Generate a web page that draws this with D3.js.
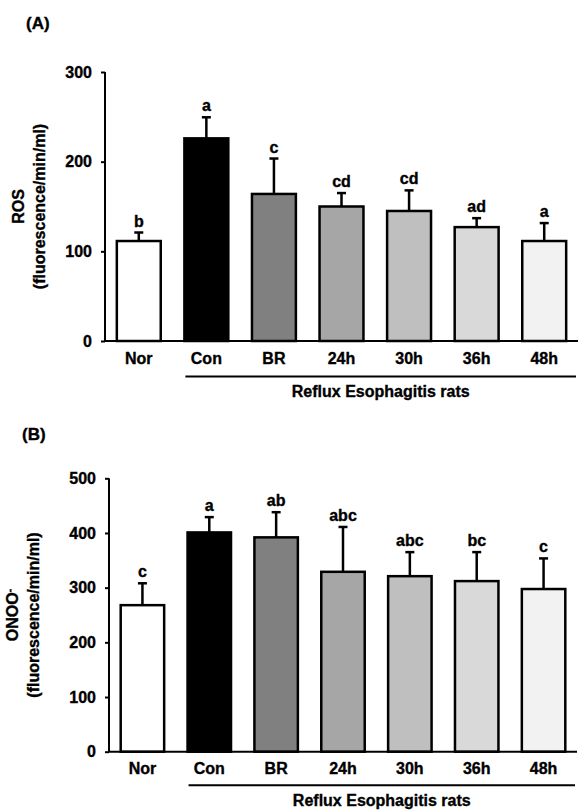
<!DOCTYPE html>
<html>
<head>
<meta charset="utf-8">
<script src="https://cdn.jsdelivr.net/npm/d3@7"></script>
<style>
  html, body { margin: 0; padding: 0; background: #fff; }
  svg text { font-family: "Liberation Sans", Arial, sans-serif; font-weight: bold; fill: #000; stroke: #000; stroke-width: 0.35px; }
</style>
</head>
<body>
<svg id="svg" width="580" height="811"></svg>
<script>
// 데이터
var groups = ['Nor', 'Con', 'BR', '24h', '30h', '36h', '48h'];
var rosMean = [111.5, 226, 164, 150, 145, 127, 111.5];
var rosSD = [9.5, 23.5, 39.5, 15, 23, 10, 20];
var rosLetters = ['b', 'a', 'c', 'cd', 'cd', 'ad', 'a'];
var rosTicks = [0, 100, 200, 300];
var onooMean = [268, 401, 392, 329, 321, 312, 297.5];
var onooSD = [40, 28, 46, 82, 44, 53, 56];
var onooLetters = ['c', 'a', 'ab', 'abc', 'abc', 'bc', 'c'];
var onooTicks = [0, 100, 200, 300, 400, 500];
var groupLabel = 'Reflux Esophagitis rats';

// 막대 색 (흰색 → 검정 → 회색 단계)
var fills = ['#ffffff', '#000000', '#808080', '#a6a6a6', '#bfbfbf', '#d9d9d9', '#f2f2f2'];

var svg = d3.select('#svg');

function drawPanel(p) {
    var g = svg.append('g');

    var x = d3.scaleBand()
        .domain(groups)
        .range([p.left, p.right])
        .paddingInner(0.35)
        .paddingOuter(0.175);

    var y = d3.scaleLinear()
        .domain([0, d3.max(p.ticks)])
        .range([p.bottom, p.top]);

    // 패널 라벨 (A), (B)
    g.append('text')
        .attr('x', p.tagX)
        .attr('y', p.tagY)
        .style('font-size', '17px')
        .text(p.tag);

    // y축
    var yAxis = g.append('g')
        .attr('transform', 'translate(' + p.left + ',0)')
        .call(d3.axisLeft(y).tickValues(p.ticks).tickSize(4).tickPadding(9).tickFormat(d3.format('d')));
    yAxis.select('.domain').attr('stroke', '#000').attr('stroke-width', 2).attr('d', 'M0,' + p.bottom + 'V' + p.top);
    yAxis.selectAll('.tick line').attr('stroke', '#000').attr('stroke-width', 2);
    yAxis.selectAll('.tick text').style('font-size', '16px').attr('fill', '#000');

    // y축 제목 (두 줄, 회전)
    var cy = (p.top + p.bottom) / 2;
    var t1 = g.append('text')
        .attr('transform', 'translate(' + p.title1X + ',' + cy + ') rotate(-90)')
        .attr('text-anchor', 'middle')
        .style('font-size', '16px');
    t1.append('tspan').text(p.title1);
    if (p.title1Sup) {
        t1.append('tspan').attr('dy', '-0.45em').style('font-size', '11px').text(p.title1Sup);
    }
    g.append('text')
        .attr('transform', 'translate(' + p.title2X + ',' + cy + ') rotate(-90)')
        .attr('text-anchor', 'middle')
        .style('font-size', '16px')
        .text('(fluorescence/min/ml)');

    // 막대
    g.selectAll('.bar')
        .data(groups)
        .enter()
        .append('rect')
        .attr('x', function (d) { return x(d); })
        .attr('y', function (d, i) { return y(p.mean[i]); })
        .attr('width', x.bandwidth())
        .attr('height', function (d, i) { return y(0) - y(p.mean[i]); })
        .attr('fill', function (d, i) { return fills[i]; })
        .attr('stroke', '#000')
        .attr('stroke-width', 2.5);

    // 오차 막대 (위쪽만)
    var err = g.selectAll('.err')
        .data(groups)
        .enter()
        .append('g')
        .attr('transform', function (d) { return 'translate(' + (x(d) + x.bandwidth() / 2) + ',0)'; });
    err.append('line')
        .attr('y1', function (d, i) { return y(p.mean[i]); })
        .attr('y2', function (d, i) { return y(p.mean[i] + p.sd[i]); })
        .attr('stroke', '#000')
        .attr('stroke-width', 2.5);
    err.append('line')
        .attr('x1', -4.5)
        .attr('x2', 4.5)
        .attr('y1', function (d, i) { return y(p.mean[i] + p.sd[i]); })
        .attr('y2', function (d, i) { return y(p.mean[i] + p.sd[i]); })
        .attr('stroke', '#000')
        .attr('stroke-width', 2.5);
    // 유의성 문자
    err.append('text')
        .attr('text-anchor', 'middle')
        .attr('y', function (d, i) { return y(p.mean[i] + p.sd[i]) - 6; })
        .style('font-size', '16px')
        .text(function (d, i) { return p.letters[i]; });

    // x축
    g.append('line')
        .attr('x1', p.left).attr('x2', p.right)
        .attr('y1', p.bottom).attr('y2', p.bottom)
        .attr('stroke', '#000').attr('stroke-width', 2);

    g.selectAll('.xlab')
        .data(groups)
        .enter()
        .append('text')
        .attr('x', function (d) { return x(d) + x.bandwidth() / 2; })
        .attr('y', p.bottom + 22.5)
        .attr('text-anchor', 'middle')
        .style('font-size', '16px')
        .text(function (d) { return d; });

    // Con ~ 48h 묶음 선과 라벨
    var bx1 = x(groups[1]) + 1;
    var bx2 = p.right - 2;
    g.append('line')
        .attr('x1', bx1).attr('x2', bx2)
        .attr('y1', p.bottom + p.lineGap).attr('y2', p.bottom + p.lineGap)
        .attr('stroke', '#000').attr('stroke-width', 2);
    g.append('text')
        .attr('x', (bx1 + bx2) / 2)
        .attr('y', p.bottom + p.lineGap + 20.5)
        .attr('text-anchor', 'middle')
        .style('font-size', '16px')
        .text(groupLabel);
}

drawPanel({
    tag: '(A)', tagX: 26, tagY: 29,
    left: 105, right: 578, top: 72, bottom: 341, lineGap: 35.5,
    ticks: rosTicks, mean: rosMean, sd: rosSD, letters: rosLetters,
    title1: 'ROS', title1X: 24, title2X: 45
});

drawPanel({
    tag: '(B)', tagX: 22, tagY: 440,
    left: 109, right: 577, top: 478.3, bottom: 751.7, lineGap: 33.5,
    ticks: onooTicks, mean: onooMean, sd: onooSD, letters: onooLetters,
    title1: 'ONOO', title1Sup: '-', title1X: 18, title2X: 39
});
</script>
</body>
</html>
